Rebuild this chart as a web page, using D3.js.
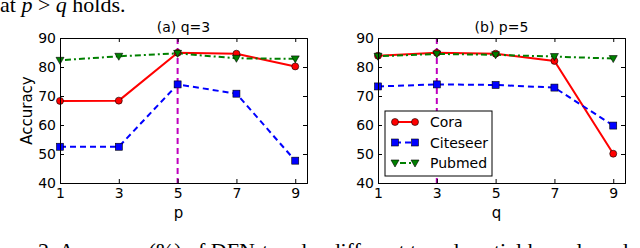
<!DOCTYPE html>
<html>
<head>
<meta charset="utf-8">
<script src="https://cdn.jsdelivr.net/npm/d3@7"></script>
<style>
  body { margin: 0; background: #fff; }
  svg { display: block; }
</style>
</head>
<body>
<div id="chart"></div>
<script>
// ------------------------------------------------------
// DATA
// ------------------------------------------------------
var xTicks = [1, 3, 5, 7, 9];
var yTicks = [40, 50, 60, 70, 80, 90];
var seriesNames = ["Cora", "Citeseer", "Pubmed"];

// panel (a): q=3, varying p
var coraA = [68.3, 68.4, 84.9, 84.6, 80.2];
var citeseerA = [52.5, 52.5, 74.0, 70.8, 47.7];
var pubmedA = [82.3, 83.7, 84.7, 83.0, 82.8];

// panel (b): p=5, varying q
var coraB = [83.9, 84.9, 84.6, 82.1, 50.1];
var citeseerB = [73.3, 74.0, 73.8, 72.9, 59.8];
var pubmedB = [83.7, 84.5, 84.2, 83.6, 82.9];

var panels = [
  { title: "(a) q=3", xlabel: "p", mark: 5, left: 60, series: [coraA, citeseerA, pubmedA], ylabel: true },
  { title: "(b) p=5", xlabel: "q", mark: 3, left: 378, series: [coraB, citeseerB, pubmedB], legend: true }
];

var styles = [
  { color: "#ff0000", dash: null, marker: "circle" },
  { color: "#0000ff", dash: "6,4", marker: "square" },
  { color: "#008000", dash: "2,3,6,3", marker: "triangle" }
];

// ------------------------------------------------------
// SETUP
// ------------------------------------------------------
var W = 640, H = 248;
var svg = d3.select("#chart").append("svg").attr("width", W).attr("height", H);
var sans = "'DejaVu Sans', sans-serif";
var serif = "'Liberation Serif', 'Times New Roman', serif";

// surrounding caption text from the page (cut off by the crop)
svg.append("text").attr("x", 0).attr("y", 12)
  .style("font-family", serif).style("font-size", "22px")
  .html("at <tspan font-style='italic'>p</tspan> &gt; <tspan font-style='italic'>q</tspan> holds.");
svg.append("text").attr("x", 38).attr("y", 258)
  .style("font-family", serif).style("font-size", "22px")
  .text("2. Accuracy (%) of DFN-t under different tuned spatial kernels and ...");

var plotW = 247, plotTop = 38, plotBottom = 183;

function drawMarker(g, type, x, y, color) {
  if (type === "circle") {
    g.append("circle").attr("cx", x).attr("cy", y).attr("r", 3.5)
      .attr("fill", color).attr("stroke", "#000").attr("stroke-width", 0.6);
  } else if (type === "square") {
    g.append("rect").attr("x", x - 3.5).attr("y", y - 3.5).attr("width", 7).attr("height", 7)
      .attr("fill", color).attr("stroke", "#000").attr("stroke-width", 0.6);
  } else {
    g.append("path").attr("d", "M" + (x - 4) + "," + (y - 3) + "L" + (x + 4) + "," + (y - 3) + "L" + x + "," + (y + 4) + "Z")
      .attr("fill", color).attr("stroke", "#000").attr("stroke-width", 0.6);
  }
}

// ------------------------------------------------------
// DRAW PANELS
// ------------------------------------------------------
panels.forEach(function (p) {
  var x = d3.scaleLinear().domain([1, 9.4]).range([p.left, p.left + plotW]);
  var y = d3.scaleLinear().domain([40, 90]).range([plotBottom, plotTop]);
  var g = svg.append("g");

  var clipId = "clip" + p.left;
  svg.append("clipPath").attr("id", clipId).append("rect")
    .attr("x", p.left).attr("y", plotTop).attr("width", plotW).attr("height", plotBottom - plotTop);

  var plot = g.append("g").attr("clip-path", "url(#" + clipId + ")");

  // vertical marker line
  plot.append("line").attr("x1", x(p.mark)).attr("x2", x(p.mark))
    .attr("y1", plotTop).attr("y2", plotBottom)
    .attr("stroke", "#bf00bf").attr("stroke-width", 2).attr("stroke-dasharray", "6,4");

  var line = d3.line().x(function (d, i) { return x(xTicks[i]); }).y(function (d) { return y(d); });

  p.series.forEach(function (vals, si) {
    var st = styles[si];
    plot.append("path").datum(vals).attr("d", line)
      .attr("fill", "none").attr("stroke", st.color).attr("stroke-width", 2)
      .attr("stroke-dasharray", st.dash);
  });
  p.series.forEach(function (vals, si) {
    var st = styles[si];
    vals.forEach(function (v, i) { drawMarker(g, st.marker, x(xTicks[i]), y(v), st.color); });
  });

  // axes (classic matplotlib: ticks inward on all sides)
  var fs = "14px";
  var bottom = g.append("g").attr("transform", "translate(0," + plotBottom + ")")
    .call(d3.axisBottom(x).tickValues(xTicks).tickSize(-4).tickPadding(5));
  var top = g.append("g").attr("transform", "translate(0," + plotTop + ")")
    .call(d3.axisTop(x).tickValues(xTicks).tickSize(-4).tickFormat(""));
  var left = g.append("g").attr("transform", "translate(" + p.left + ",0)")
    .call(d3.axisLeft(y).tickValues(yTicks).tickSize(-4).tickPadding(4));
  var right = g.append("g").attr("transform", "translate(" + (p.left + plotW) + ",0)")
    .call(d3.axisRight(y).tickValues(yTicks).tickSize(-4).tickFormat(""));
  [bottom, top, left, right].forEach(function (a) {
    a.select(".domain").attr("stroke", "#000").attr("stroke-width", 1);
    a.selectAll(".tick line").attr("stroke", "#000");
    a.selectAll("text").style("font-family", sans).style("font-size", fs).attr("fill", "#000");
  });
  bottom.selectAll("text").attr("dy", "0.72em");

  // titles and labels
  g.append("text").attr("x", p.left + plotW / 2).attr("y", 32).attr("text-anchor", "middle")
    .style("font-family", sans).style("font-size", "14px").text(p.title);
  g.append("text").attr("x", p.left + plotW / 2 - 5).attr("y", 218).attr("text-anchor", "middle")
    .style("font-family", sans).style("font-size", "15px").text(p.xlabel);
  if (p.ylabel) {
    g.append("text").attr("transform", "translate(32," + ((plotTop + plotBottom) / 2) + ") rotate(-90)")
      .attr("text-anchor", "middle")
      .style("font-family", sans).style("font-size", "15px").text("Accuracy");
  }

  // legend
  if (p.legend) {
    var lg = g.append("g");
    lg.append("rect").attr("x", 385).attr("y", 111).attr("width", 107).attr("height", 65)
      .attr("fill", "#fff").attr("stroke", "#000").attr("stroke-width", 1);
    seriesNames.forEach(function (name, i) {
      var st = styles[i];
      var ly = 122 + i * 20.5;
      lg.append("line").attr("x1", 395).attr("x2", 415).attr("y1", ly).attr("y2", ly)
        .attr("stroke", st.color).attr("stroke-width", 2).attr("stroke-dasharray", st.dash);
      drawMarker(lg, st.marker, 395, ly, st.color);
      drawMarker(lg, st.marker, 415, ly, st.color);
      lg.append("text").attr("x", 430).attr("y", ly + 5)
        .style("font-family", sans).style("font-size", "14px").text(name);
    });
  }
});
</script>
</body>
</html>
